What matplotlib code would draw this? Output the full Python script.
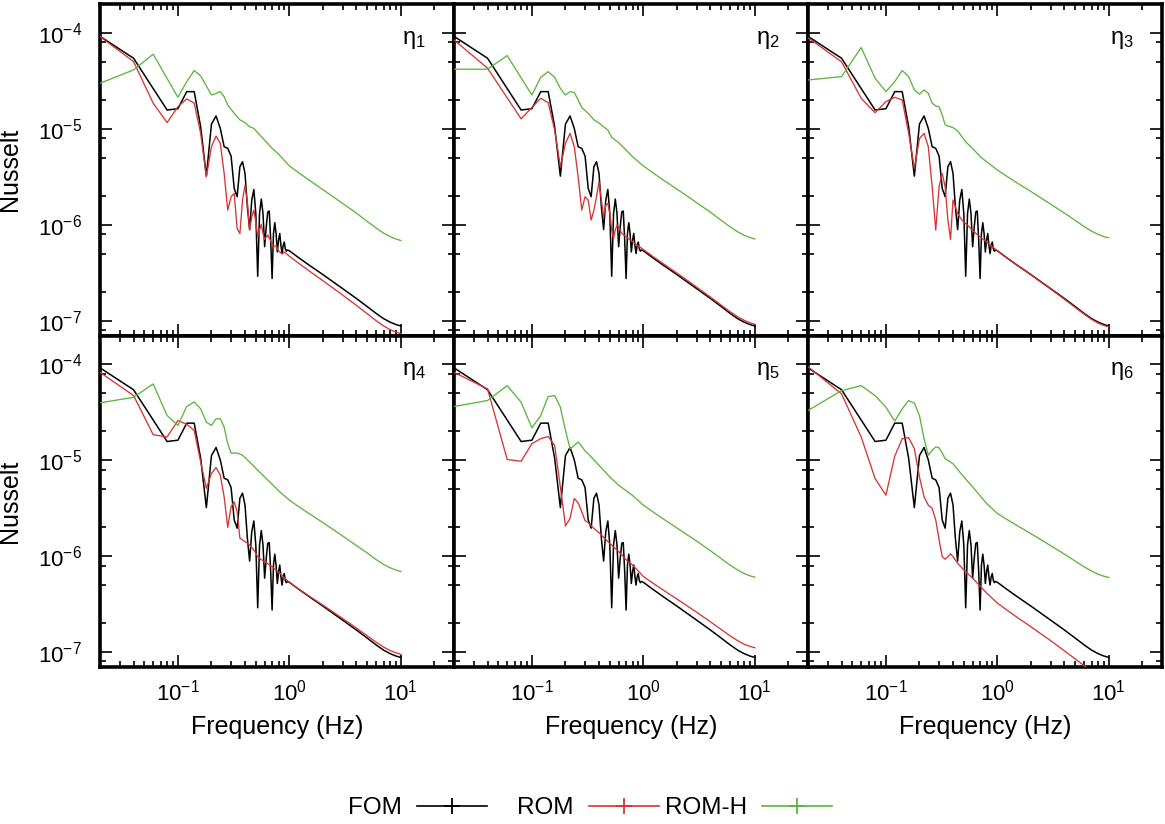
import matplotlib
matplotlib.use("Agg")
import matplotlib.pyplot as plt
from matplotlib.ticker import LogLocator, NullFormatter
from matplotlib.lines import Line2D

# ---------------- data ----------------
# common high-frequency sampling used for the smooth tails (Hz)
TAIL_F = [1.0, 1.2, 1.5, 2, 2.5, 3, 4, 5, 6, 7, 8, 9, 10]

FREQ_FOM = [0.02, 0.04, 0.08, 0.10, 0.12, 0.14, 0.16, 0.18, 0.20, 0.22, 0.24, 0.26,
            0.28, 0.30, 0.32, 0.34, 0.36, 0.38, 0.40, 0.42, 0.44, 0.46, 0.48, 0.50,
            0.52, 0.54, 0.56, 0.58, 0.60, 0.62, 0.64, 0.66, 0.68, 0.70, 0.72, 0.74,
            0.76, 0.78, 0.80, 0.82, 0.84, 0.86, 0.88, 0.90, 0.92, 0.94, 0.96] + TAIL_F
NU_FOM = [9.2e-5, 5.44e-5, 1.57e-5, 1.62e-5, 2.44e-5, 2.44e-5, 1.05e-5, 3.21e-6, 1.12e-5,
          1.36e-5, 1.01e-5, 6.5e-6, 6.25e-6, 5.2e-6, 2.39e-6, 1.96e-6, 4.03e-6, 4.54e-6,
          3.43e-6, 1.54e-6, 8.9e-7, 1.81e-6, 2.33e-6, 1.31e-6, 2.9e-7, 1.31e-6, 1.85e-6,
          1.31e-6, 5.9e-7, 9.5e-7, 1.36e-6, 1.39e-6, 6.9e-7, 2.75e-7, 8.1e-7, 1.05e-6,
          8.1e-7, 5.2e-7, 6.9e-7, 8.1e-7, 6.1e-7, 5.0e-7, 6.1e-7, 6.6e-7, 5.6e-7, 5.3e-7,
          5.45e-7,
          5.35e-7, 4.57e-7, 3.80e-7, 3.02e-7, 2.51e-7, 2.16e-7, 1.70e-7, 1.40e-7, 1.19e-7,
          1.05e-7, 9.66e-8, 9.12e-8, 8.8e-8]

# ROM, panels eta_1 .. eta_6
ROM_F1 = [0.02, 0.04, 0.06, 0.08, 0.10, 0.12, 0.14, 0.16, 0.18, 0.20, 0.22, 0.24, 0.26,
          0.28, 0.30, 0.32, 0.34, 0.36, 0.38, 0.40, 0.42, 0.44, 0.46, 0.48, 0.50, 0.52,
          0.54, 0.56, 0.58, 0.60, 0.64, 0.68, 0.72, 0.76, 0.80, 0.86, 0.90] + TAIL_F
ROM_V1 = [9.16e-5, 5.02e-5, 1.85e-5, 1.16e-5, 1.70e-5, 2.05e-5, 1.85e-5, 8.97e-6, 3.16e-6,
          6.5e-6, 8.4e-6, 7.05e-6, 3.43e-6, 1.42e-6, 1.96e-6, 2.12e-6, 9.1e-7, 8.1e-7,
          1.81e-6, 2.59e-6, 1.73e-6, 8.8e-7, 1.21e-6, 1.42e-6, 1.07e-6, 7.5e-7, 8.8e-7,
          1.01e-6, 8.1e-7, 7.0e-7, 7.8e-7, 6.8e-7, 5.8e-7, 6.1e-7, 5.35e-7, 4.95e-7, 5.2e-7,
          4.7e-7, 4.0e-7, 3.31e-7, 2.61e-7, 2.16e-7, 1.85e-7, 1.44e-7, 1.18e-7, 9.98e-8,
          8.81e-8, 8.07e-8, 7.6e-8, 7.33e-8]

ROM_F2 = [0.02, 0.04, 0.08, 0.10, 0.12, 0.14, 0.16, 0.18, 0.20, 0.22, 0.24, 0.26, 0.28,
          0.30, 0.32, 0.34, 0.36, 0.38, 0.40, 0.42, 0.44, 0.46, 0.48, 0.50, 0.52, 0.54,
          0.56, 0.58, 0.60, 0.64, 0.70, 0.80, 0.90] + TAIL_F
ROM_V2 = [8.45e-5, 4.28e-5, 1.27e-5, 1.67e-5, 2.08e-5, 1.87e-5, 9.7e-6, 4.03e-6, 7.05e-6,
          8.97e-6, 6.5e-6, 3.16e-6, 1.42e-6, 1.96e-6, 1.8e-6, 1.12e-6, 1.42e-6, 1.96e-6,
          2.8e-6, 1.8e-6, 1.21e-6, 1.6e-6, 1.66e-6, 1.31e-6, 8.8e-7, 7.2e-7, 8.8e-7, 9.9e-7,
          9.5e-7, 8.1e-7, 7.5e-7, 6.6e-7, 6.0e-7,
          5.52e-7, 4.72e-7, 3.94e-7, 3.13e-7, 2.61e-7, 2.24e-7, 1.76e-7, 1.45e-7, 1.24e-7,
          1.1e-7, 1.01e-7, 9.5e-8, 9.16e-8]

ROM_F3 = [0.02, 0.04, 0.06, 0.08, 0.10, 0.12, 0.14, 0.16, 0.18, 0.20, 0.22, 0.24, 0.26,
          0.28, 0.30, 0.32, 0.34, 0.36, 0.38, 0.40, 0.44, 0.48, 0.52, 0.56, 0.60, 0.70,
          0.80] + TAIL_F
ROM_V3 = [8.9e-5, 5.0e-5, 2.08e-5, 1.47e-5, 1.92e-5, 2.13e-5, 2.0e-5, 8.97e-6, 3.87e-6,
          7.9e-6, 8.97e-6, 6.5e-6, 2.49e-6, 8.8e-7, 2.49e-6, 3.43e-6, 2.49e-6, 1.12e-6,
          7.0e-7, 1.81e-6, 1.31e-6, 1.12e-6, 1.03e-6, 9.5e-7, 8.65e-7, 7.5e-7, 6.6e-7,
          5.35e-7, 4.56e-7, 3.78e-7, 3.0e-7, 2.49e-7, 2.14e-7, 1.67e-7, 1.37e-7, 1.17e-7,
          1.03e-7, 9.44e-8, 8.91e-8, 8.6e-8]

ROM_F4 = [0.02, 0.04, 0.06, 0.08, 0.10, 0.12, 0.14, 0.16, 0.18, 0.20, 0.22, 0.24, 0.26,
          0.28, 0.30, 0.32, 0.34, 0.36, 0.38, 0.40, 0.44, 0.48, 0.52, 0.56, 0.60, 0.70,
          0.80] + TAIL_F
ROM_V4 = [8.26e-5, 4.73e-5, 1.85e-5, 1.75e-5, 2.6e-5, 2.37e-5, 2.05e-5, 9.6e-6, 5.1e-6,
          7.3e-6, 8.4e-6, 7.0e-6, 4.16e-6, 2.0e-6, 3.28e-6, 3.69e-6, 2.91e-6, 1.54e-6,
          1.48e-6, 1.42e-6, 1.31e-6, 1.16e-6, 9.9e-7, 9.2e-7, 8.8e-7, 7.8e-7, 6.8e-7,
          5.33e-7, 4.59e-7, 3.85e-7, 3.09e-7, 2.59e-7, 2.25e-7, 1.78e-7, 1.48e-7, 1.27e-7,
          1.13e-7, 1.04e-7, 9.86e-8, 9.5e-8]

ROM_F5 = [0.02, 0.04, 0.06, 0.08, 0.10, 0.12, 0.14, 0.16, 0.18, 0.20, 0.22, 0.24, 0.26,
          0.28, 0.30, 0.32, 0.36, 0.40, 0.50, 0.60, 0.70, 0.80] + TAIL_F
ROM_V5 = [8.26e-5, 5.55e-5, 1.02e-5, 9.77e-6, 1.49e-5, 1.68e-5, 1.77e-5, 1.43e-5, 5.28e-6,
          2.07e-6, 2.48e-6, 4.0e-6, 3.6e-6, 2.91e-6, 2.35e-6, 2.24e-6, 1.95e-6, 1.76e-6,
          1.36e-6, 1.12e-6, 9.2e-7, 8.1e-7,
          6.15e-7, 5.3e-7, 4.46e-7, 3.58e-7, 3.01e-7, 2.61e-7, 2.07e-7, 1.72e-7, 1.48e-7,
          1.32e-7, 1.21e-7, 1.15e-7, 1.11e-7]

ROM_F6 = [0.02, 0.04, 0.06, 0.08, 0.10, 0.12, 0.14, 0.16, 0.18, 0.20, 0.22, 0.24, 0.26,
          0.28, 0.30, 0.32, 0.34, 0.36, 0.38, 0.40, 0.44, 0.50, 0.60, 0.80] + TAIL_F
ROM_V6 = [9.46e-5, 4.92e-5, 1.75e-5, 6.45e-6, 4.33e-6, 1.1e-5, 1.68e-5, 1.72e-5, 1.32e-5,
          6.7e-6, 4.16e-6, 3.41e-6, 3.15e-6, 2.38e-6, 1.48e-6, 9.93e-7, 9.3e-7, 9.9e-7,
          1.06e-6, 9.9e-7, 8.45e-7, 7.2e-7, 5.9e-7, 4.13e-7,
          3.25e-7, 2.78e-7, 2.31e-7, 1.84e-7, 1.53e-7, 1.32e-7, 1.03e-7, 8.49e-8, 7.23e-8,
          6.4e-8, 5.87e-8, 5.55e-8, 5.35e-8]

# ROM-H, panels eta_1 .. eta_6
ROMH_F1 = [0.02, 0.04, 0.06, 0.10, 0.12, 0.14, 0.16, 0.18, 0.20, 0.22, 0.24, 0.26, 0.28,
           0.30, 0.32, 0.36, 0.40, 0.44, 0.48, 0.52, 0.56, 0.60, 0.70, 0.80] + TAIL_F
ROMH_V1 = [2.98e-5, 4.11e-5, 5.99e-5, 2.13e-5, 3.1e-5, 4.05e-5, 3.56e-5, 2.8e-5, 2.25e-5,
           2.34e-5, 2.44e-5, 2.16e-5, 1.77e-5, 1.6e-5, 1.45e-5, 1.24e-5, 1.16e-5, 1.05e-5,
           1.01e-5, 9.1e-6, 8.3e-6, 7.6e-6, 6.25e-6, 5.45e-6,
           4.1e-6, 3.51e-6, 2.92e-6, 2.32e-6, 1.94e-6, 1.67e-6, 1.32e-6, 1.08e-6, 9.25e-7,
           8.18e-7, 7.52e-7, 7.11e-7, 6.84e-7]

ROMH_F2 = [0.02, 0.04, 0.06, 0.10, 0.12, 0.14, 0.16, 0.18, 0.20, 0.22, 0.24, 0.26, 0.28,
           0.30, 0.32, 0.36, 0.40, 0.44, 0.48, 0.52, 0.56, 0.60, 0.70, 0.80] + TAIL_F
ROMH_V2 = [4.18e-5, 4.18e-5, 5.8e-5, 2.25e-5, 3.44e-5, 3.94e-5, 3.44e-5, 2.64e-5, 2.25e-5,
           2.44e-5, 2.39e-5, 2.0e-5, 1.67e-5, 1.55e-5, 1.45e-5, 1.24e-5, 1.15e-5, 1.05e-5,
           9.7e-6, 8.15e-6, 7.6e-6, 7.2e-6, 6.0e-6, 5.12e-6,
           4.1e-6, 3.52e-6, 2.94e-6, 2.35e-6, 1.97e-6, 1.70e-6, 1.35e-6, 1.11e-6, 9.5e-7,
           8.45e-7, 7.78e-7, 7.36e-7, 7.1e-7]

ROMH_F3 = [0.02, 0.04, 0.06, 0.08, 0.10, 0.12, 0.14, 0.16, 0.18, 0.20, 0.22, 0.24, 0.26,
           0.28, 0.30, 0.32, 0.34, 0.36, 0.40, 0.44, 0.48, 0.52, 0.60, 0.70, 0.80] + TAIL_F
ROMH_V3 = [3.23e-5, 3.5e-5, 7.03e-5, 3.37e-5, 2.44e-5, 3.1e-5, 4.05e-5, 3.5e-5, 2.54e-5,
           2.3e-5, 2.54e-5, 2.35e-5, 1.85e-5, 1.73e-5, 1.7e-5, 1.39e-5, 1.1e-5, 1.07e-5,
           1.03e-5, 9.5e-6, 8.3e-6, 7.3e-6, 6.25e-6, 5.13e-6, 4.54e-6,
           3.72e-6, 3.23e-6, 2.73e-6, 2.22e-6, 1.88e-6, 1.64e-6, 1.32e-6, 1.11e-6, 9.57e-7,
           8.57e-7, 7.94e-7, 7.53e-7, 7.3e-7]

ROMH_F4 = [0.02, 0.04, 0.06, 0.08, 0.10, 0.12, 0.14, 0.16, 0.18, 0.20, 0.22, 0.24, 0.26,
           0.28, 0.30, 0.34, 0.38, 0.44, 0.52, 0.60, 0.70, 0.80] + TAIL_F
ROMH_V4 = [3.97e-5, 4.54e-5, 6.25e-5, 2.93e-5, 2.31e-5, 3.64e-5, 4.06e-5, 3.44e-5, 2.5e-5,
           2.31e-5, 2.71e-5, 2.71e-5, 2.22e-5, 1.49e-5, 1.19e-5, 1.19e-5, 1.13e-5, 9.6e-6,
           7.87e-6, 6.7e-6, 5.63e-6, 4.81e-6,
           3.85e-6, 3.31e-6, 2.79e-6, 2.24e-6, 1.88e-6, 1.63e-6, 1.29e-6, 1.08e-6, 9.23e-7,
           8.22e-7, 7.59e-7, 7.18e-7, 6.93e-7]

ROMH_F5 = [0.02, 0.04, 0.06, 0.08, 0.10, 0.12, 0.14, 0.16, 0.18, 0.20, 0.22, 0.24, 0.26,
           0.28, 0.30, 0.32, 0.40, 0.50, 0.60, 0.80] + TAIL_F
ROMH_V5 = [3.64e-5, 4.2e-5, 6.0e-5, 4.03e-5, 2.18e-5, 2.93e-5, 4.62e-5, 4.73e-5, 3.58e-5,
           2.05e-5, 1.32e-5, 1.43e-5, 1.55e-5, 1.4e-5, 1.25e-5, 1.17e-5, 8.87e-6, 6.7e-6,
           5.5e-6, 4.3e-6,
           3.41e-6, 2.94e-6, 2.46e-6, 1.97e-6, 1.66e-6, 1.44e-6, 1.14e-6, 9.42e-7, 8.07e-7,
           7.19e-7, 6.62e-7, 6.26e-7, 6.05e-7]

ROMH_F6 = [0.02, 0.04, 0.06, 0.08, 0.10, 0.12, 0.14, 0.16, 0.18, 0.20, 0.22, 0.24, 0.26,
           0.28, 0.30, 0.32, 0.34, 0.40, 0.50, 0.60, 0.80] + TAIL_F
ROMH_V6 = [3.3e-5, 5.33e-5, 6.0e-5, 4.73e-5, 3.58e-5, 2.56e-5, 3.44e-5, 4.2e-5, 3.94e-5,
           2.93e-5, 1.68e-5, 1.13e-5, 1.27e-5, 1.38e-5, 1.35e-5, 1.19e-5, 1.04e-5, 9.2e-6,
           6.7e-6, 5.28e-6, 3.55e-6,
           2.79e-6, 2.44e-6, 2.09e-6, 1.72e-6, 1.47e-6, 1.29e-6, 1.05e-6, 8.89e-7, 7.76e-7,
           7.0e-7, 6.5e-7, 6.19e-7, 6.0e-7]

PANEL_LABELS = ["1", "2", "3", "4", "5", "6"]
SERIES_NAMES = ["FOM", "ROM", "ROM-H"]
X_LABEL = "Frequency (Hz)"
Y_LABEL = "Nusselt"

ROM_F = [ROM_F1, ROM_F2, ROM_F3, ROM_F4, ROM_F5, ROM_F6]
ROM_V = [ROM_V1, ROM_V2, ROM_V3, ROM_V4, ROM_V5, ROM_V6]
ROMH_F = [ROMH_F1, ROMH_F2, ROMH_F3, ROMH_F4, ROMH_F5, ROMH_F6]
ROMH_V = [ROMH_V1, ROMH_V2, ROMH_V3, ROMH_V4, ROMH_V5, ROMH_V6]

# ---------------- style ----------------
plt.rcParams["font.family"] = ["Liberation Sans", "DejaVu Sans"]
plt.rcParams["mathtext.fontset"] = "custom"
plt.rcParams["mathtext.rm"] = "Liberation Sans"
plt.rcParams["mathtext.it"] = "Liberation Sans"
plt.rcParams["mathtext.default"] = "regular"
plt.rcParams["axes.unicode_minus"] = False

C_FOM = "#000000"
C_ROM = "#d83434"
C_ROMH = "#5db53b"
COLORS = [C_FOM, C_ROM, C_ROMH]

W, H = 1165, 824
fig = plt.figure(figsize=(W / 100, H / 100), dpi=100)
axes = fig.subplots(2, 3, sharex=True, sharey=True)
fig.subplots_adjust(left=100 / W, right=1162 / W, top=1 - 4 / H, bottom=1 - 667 / H,
                    wspace=0, hspace=0)

for i, ax in enumerate(axes.flat):
    ax.plot(FREQ_FOM, NU_FOM, color=C_FOM, lw=1.1, zorder=3)
    ax.plot(ROM_F[i], ROM_V[i], color=C_ROM, lw=0.95, zorder=4)
    ax.plot(ROMH_F[i], ROMH_V[i], color=C_ROMH, lw=0.95, zorder=5)
    ax.set_xscale("log")
    ax.set_yscale("log")
    ax.set_xlim(0.02, 30)
    ax.set_ylim(7e-8, 2e-4)
    ax.xaxis.set_major_locator(LogLocator(base=10, numticks=10))
    ax.xaxis.set_minor_locator(LogLocator(base=10, subs=tuple(range(2, 10)), numticks=20))
    ax.xaxis.set_minor_formatter(NullFormatter())
    ax.yaxis.set_major_locator(LogLocator(base=10, numticks=10))
    ax.yaxis.set_minor_locator(LogLocator(base=10, subs=(2, 5, 8), numticks=20))
    ax.yaxis.set_minor_formatter(NullFormatter())
    ax.tick_params(which="both", direction="in", top=True, right=True,
                   labelsize=16, width=1.2, colors="black")
    ax.tick_params(which="major", length=8.6)
    ax.tick_params(which="minor", length=4.3)
    ax.tick_params(axis="y", pad=13)
    ax.tick_params(axis="x", pad=9)
    for s in ax.spines.values():
        s.set_linewidth(2.6)
    ax.text(0.853, 0.88, r"$\eta_{%s}$" % PANEL_LABELS[i], transform=ax.transAxes,
            fontsize=17, ha="left", va="baseline")
    if i >= 3:
        ax.set_xlabel(X_LABEL, fontsize=18, labelpad=7)
    if i % 3 == 0:
        ax.set_ylabel(Y_LABEL, fontsize=18, labelpad=11)

# legend: three entries, text before a line with a '+' marker
legend_right = [487 / W, 659 / W, 832 / W]
for name, col, xr in zip(SERIES_NAMES, COLORS, legend_right):
    h = Line2D([], [], color=col, lw=1.2, marker="+", markersize=11, markeredgewidth=1.3)
    fig.legend([h], [name], loc="center right", bbox_to_anchor=(xr, 1 - 808 / H),
               frameon=False, markerfirst=False, numpoints=1, handlelength=2.9,
               handletextpad=0.6, fontsize=17.5, borderpad=0, borderaxespad=0)

fig.savefig("out.png", dpi=100)
